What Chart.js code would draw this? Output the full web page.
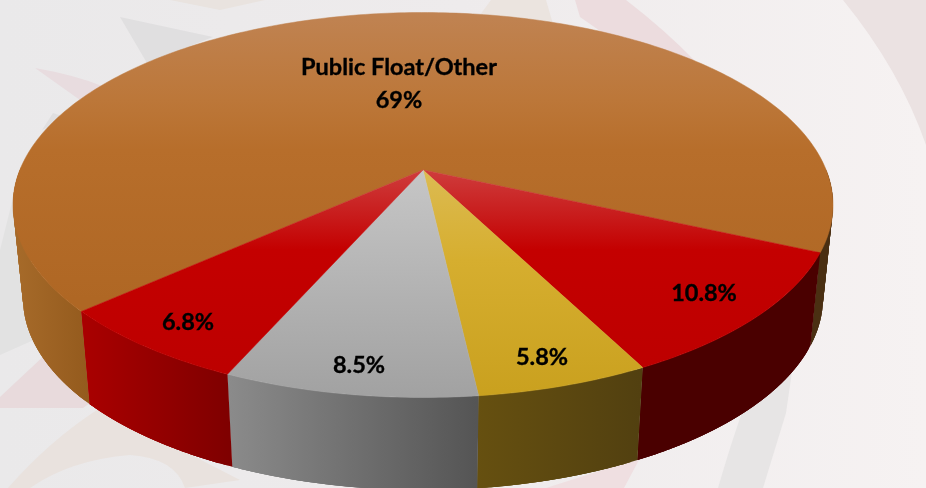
<!DOCTYPE html>
<html>
<head>
<meta charset="utf-8">
<style>html,body{margin:0;padding:0;overflow:hidden;background:#f0eded}canvas{display:block}</style>
<script src="https://cdn.jsdelivr.net/npm/chart.js@4"></script>
</head>
<body>
<canvas id="c" width="926" height="488"></canvas>
<script>
// ---- data ----
const categories = ['Public Float/Other', 'Holder A', 'Holder B', 'Holder C', 'Holder D'];
const shares = [69, 10.8, 5.8, 8.5, 6.8];
const valueLabels = ['69%', '10.8%', '5.8%', '8.5%', '6.8%'];
const startRotation = 228.1;

// ---- styles ----
const topStops = [
  [[13,'#c08352'],[100,'#bc7739'],[150,'#b76e2b'],[300,'#af6724']],
  [[170,'#cf3c3c'],[215,'#c81c1c'],[250,'#c40000'],[370,'#bd0000']],
  [[170,'#dcbb52'],[260,'#d6ae2f'],[400,'#c9a01e']],
  [[170,'#c6c6c6'],[400,'#a1a1a1']],
  [[170,'#cf3c3c'],[215,'#c81c1c'],[250,'#c40000'],[370,'#bd0000']]
];
const wallStops = [
  [[13,'#a76b2a'],[96,'#92591c'],[100,'#4a2f12'],[833,'#4a2f12']],
  [[640,'#4a0000'],[822,'#4a0000']],
  [[476,'#665010'],[640,'#524010']],
  [[223,'#8c8c8c'],[476,'#555555']],
  [[88,'#a80000'],[229,'#7f0000']]
];
const backdrop = [
  ['#e0dfe0','M120 17L213 37L147 63Z'],
  ['#e8dcdf','M35 68Q75 75 102 86L80 100Z'],
  ['#e0dfe0','M53 113L42 130L68 118Z'],
  ['#e9e3df','M170 0L265 0L220 10Z'],
  ['#ebe4df','M480 15L491 0L546 0L553 24Z'],
  ['#ecdcde','M575 0L626 0Q665 30 696 62L603 33L580 17Z'],
  ['#ebe2e2','M843 0L926 0L926 145Q900 70 843 0Z'],
  ['#e2e2e2','M0 355L0 250L15 190L45 335Z'],
  ['#e8dadc','M0 397L47 353L90 403L83 408L0 408Z'],
  ['#e9e2de','M8 488Q50 440 100 408L240 480L185 488Q175 458 130 455Q70 460 30 488Z'],
  ['#e7e5e5','M793 365L786 413L763 488L718 488Q735 430 745 405Z'],
  ['#efdfe1','M546 488L640 458L624 488Z']
];
const labelFont = '700 23.5px Lato';

// projection of the unit disc onto the tilted pie
const PERSP = 0.182;
const topRim = {cx:423, cy:205, a:410, b:192.5};
const lowRim = {cx:423, cy:298, a:400, b:192};
function rim(e, t){
  const u = Math.cos(t), v = Math.sin(t), w = 1 - PERSP*v;
  return [e.cx + e.a*u*Math.sqrt(1-PERSP*PERSP)/w, e.cy + e.b*(v-PERSP)/w];
}
function sweep(ctx, e, a0, a1){
  const n = Math.max(8, Math.ceil(Math.abs(a1-a0)*60));
  for(let i=0;i<=n;i++){
    const p = rim(e, a0 + (a1-a0)*i/n);
    ctx.lineTo(p[0], p[1]);
  }
}
function vGrad(ctx, stops){
  const y0 = stops[0][0], y1 = stops[stops.length-1][0];
  const g = ctx.createLinearGradient(0,y0,0,y1);
  stops.forEach(s=>g.addColorStop((s[0]-y0)/(y1-y0), s[1]));
  return g;
}
function hGrad(ctx, stops){
  const x0 = stops[0][0], x1 = stops[stops.length-1][0];
  const g = ctx.createLinearGradient(x0,0,x1,0);
  stops.forEach(s=>g.addColorStop((s[0]-x0)/(x1-x0), s[1]));
  return g;
}

const backdropPlugin = {
  id:'backdrop',
  beforeDraw(chart){
    const ctx = chart.ctx;
    ctx.save();
    const g = ctx.createLinearGradient(0,0,926,0);
    g.addColorStop(0,'#eae9ea'); g.addColorStop(0.5,'#eeebec'); g.addColorStop(1,'#f6f2f2');
    ctx.fillStyle = g;
    ctx.fillRect(0,0,926,488);
    backdrop.forEach(s=>{ ctx.fillStyle = s[0]; ctx.fill(new Path2D(s[1])); });
    ctx.restore();
  }
};

const tiltedPie = {
  id:'tiltedPie',
  beforeDatasetDraw(chart, args){
    const ctx = chart.ctx, arcs = chart.getDatasetMeta(args.index).data;
    ctx.save();
    arcs.forEach((arc,i)=>{
      ctx.fillStyle = hGrad(ctx, wallStops[i]);
      const span = arc.endAngle - arc.startAngle;
      const n = Math.ceil(span*60);
      for(let k=0;k<n;k++){
        const t0 = arc.startAngle + span*k/n;
        const t1 = arc.startAngle + span*Math.min(k+3,n)/n;   // overlap hides seams
        const mid = Math.sin((t0+t1)/2);
        if(mid < 0) continue;                                // back of the pie is hidden
        ctx.beginPath();
        sweep(ctx, topRim, t0, t1);
        sweep(ctx, lowRim, t1, t0);
        ctx.closePath();
        ctx.fill();
      }
    });
    arcs.forEach((arc,i)=>{
      const apex = [topRim.cx, topRim.cy - topRim.b*PERSP];
      ctx.beginPath();
      ctx.moveTo(apex[0], apex[1]);
      sweep(ctx, topRim, arc.startAngle, arc.endAngle);
      ctx.closePath();
      const fill = vGrad(ctx, topStops[i]);
      ctx.fillStyle = fill; ctx.strokeStyle = fill; ctx.lineWidth = 0.5;
      ctx.fill(); ctx.stroke();
    });
    ctx.restore();
    return false;
  },
  afterDatasetsDraw(chart){
    const ctx = chart.ctx;
    ctx.save();
    ctx.font = labelFont;
    ctx.fillStyle = '#000';
    ctx.strokeStyle = '#000';
    ctx.lineWidth = 0.35;
    ctx.textAlign = 'center';
    ctx.textBaseline = 'middle';
    const put = (t,x,y)=>{ ctx.fillText(t,x,y); ctx.strokeText(t,x,y); };
    put(categories[0], 399, 67);
    put(valueLabels[0], 399, 100);
    put(valueLabels[1], 704, 293);
    put(valueLabels[2], 542, 357);
    put(valueLabels[3], 359, 365);
    put(valueLabels[4], 188, 322);
    ctx.restore();
  }
};

new Chart(document.getElementById('c'), {
  type:'pie',
  data:{labels:categories, datasets:[{data:shares, backgroundColor:'#b76e2b', borderWidth:0}]},
  options:{
    responsive:false, animation:false, rotation:startRotation,
    layout:{padding:0},
    plugins:{legend:{display:false}, title:{display:false}, tooltip:{enabled:false}}
  },
  plugins:[backdropPlugin, tiltedPie]
});
</script>
</body>
</html>
